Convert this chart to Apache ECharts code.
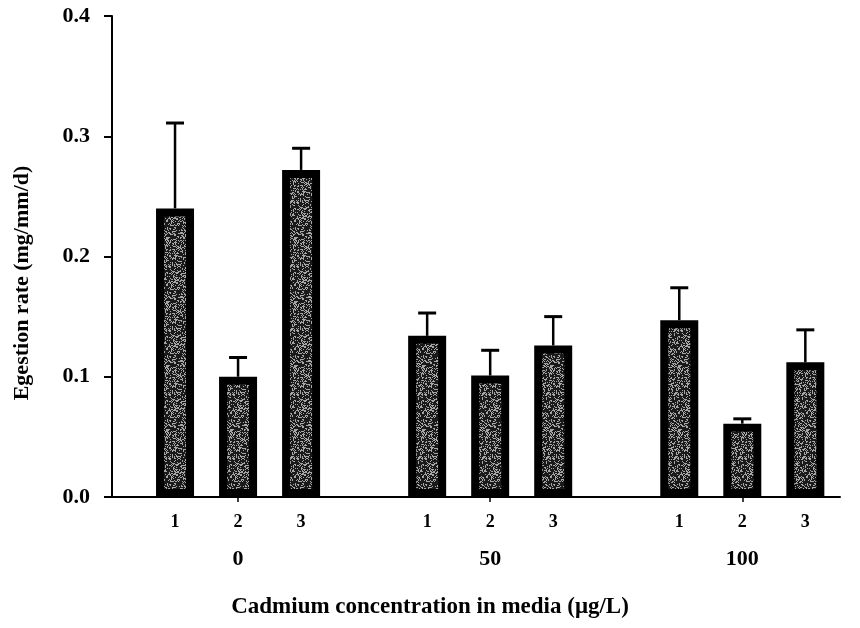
<!DOCTYPE html>
<html>
<head>
<meta charset="utf-8">
<script src="https://cdn.jsdelivr.net/npm/echarts@6/dist/echarts.min.js"></script>
<style>
  html, body { margin: 0; padding: 0; background: #ffffff; }
  #chart { width: 860px; height: 628px; }
</style>
</head>
<body>
<div id="chart"></div>
<script>
// Cadmium treatment groups and the three sub-treatments in each
const groups = ['0', '50', '100'];
const subLabels = ['1', '2', '3'];

// Mean egestion rate (mg/mm/d), ordered group by group
const egestion = [0.240, 0.100, 0.272, 0.134, 0.101, 0.126, 0.147, 0.061, 0.112];
// Upper error (SE) for each bar
const errUpper = [0.071, 0.016, 0.018, 0.019, 0.021, 0.024, 0.027, 0.004, 0.027];

// Y-axis tick values
const yTicks = [0, 0.1, 0.2, 0.3, 0.4];

const FONT = '"Liberation Serif", "Times New Roman", "DejaVu Serif", serif';

// Slot on the x scale: one empty slot separates consecutive groups
const slotOf = (g, s) => g * (subLabels.length + 1) + s + 1;

const barData = [];
const errData = [];
groups.forEach((g, gi) => {
  subLabels.forEach((s, si) => {
    const i = gi * subLabels.length + si;
    const x = slotOf(gi, si);
    barData.push([x, egestion[i]]);
    errData.push([x, egestion[i], egestion[i] + errUpper[i]]);
  });
});
const barSlots = barData.map(d => d[0]);
const groupSlots = groups.map((g, gi) => slotOf(gi, 1));

// Stippled grey fill for the bars (deterministic integer hash per pixel)
function stipple() {
  const size = 64;
  const c = document.createElement('canvas');
  c.width = size; c.height = size;
  const ctx = c.getContext('2d');
  ctx.fillStyle = '#1a1a1a';
  ctx.fillRect(0, 0, size, size);
  ctx.fillStyle = '#a6a6a6';
  for (let y = 0; y < size; y++) {
    for (let x = 0; x < size; x++) {
      let h = (x * 374761393 + y * 668265263) | 0;
      h = Math.imul(h ^ (h >>> 13), 1274126177);
      h = (h ^ (h >>> 16)) >>> 0;
      if ((h % 100) < 33) ctx.fillRect(x, y, 1, 1);
    }
  }
  return c;
}

const chart = echarts.init(document.getElementById('chart'));

chart.setOption({
  animation: false,
  backgroundColor: '#ffffff',
  grid: { left: 112, right: 20, top: 16, bottom: 131, containLabel: false },
  xAxis: [
    {
      type: 'value',
      min: 0,
      max: 11.55,
      axisLine: { show: true, lineStyle: { color: '#000', width: 2 } },
      axisTick: { show: true, customValues: groupSlots, length: 5, lineStyle: { color: '#000', width: 1.5 } },
      axisLabel: {
        customValues: barSlots,
        formatter: v => subLabels[(Math.round(v) - 1) % (subLabels.length + 1)],
        fontFamily: FONT, fontWeight: 'bold', fontSize: 18, color: '#000', margin: 16
      },
      splitLine: { show: false }
    },
    {
      type: 'value',
      position: 'bottom',
      min: 0,
      max: 11.55,
      axisLine: { show: false },
      axisTick: { show: false },
      axisLabel: {
        customValues: groupSlots,
        formatter: v => groups[Math.round((v - 2) / (subLabels.length + 1))],
        fontFamily: FONT, fontWeight: 'bold', fontSize: 22, color: '#000', margin: 51
      },
      splitLine: { show: false }
    }
  ],
  yAxis: {
    type: 'value',
    min: 0,
    max: 0.4,
    interval: 0.1,
    axisLine: { show: true, lineStyle: { color: '#000', width: 2 } },
    axisTick: { show: true, customValues: yTicks, length: 8, lineStyle: { color: '#000', width: 2 } },
    axisLabel: {
      customValues: yTicks,
      formatter: v => v.toFixed(1),
      fontFamily: FONT, fontWeight: 'bold', fontSize: 22, color: '#000', margin: 22
    },
    splitLine: { show: false }
  },
  graphic: [
    {
      type: 'text',
      x: 22, y: 283,
      rotation: Math.PI / 2,
      style: {
        text: 'Egestion rate (mg/mm/d)',
        font: 'bold 22px ' + FONT,
        fill: '#000',
        align: 'center',
        verticalAlign: 'middle'
      }
    },
    {
      type: 'text',
      x: 430, y: 607,
      style: {
        text: 'Cadmium concentration in media (\u03bcg/L)',
        font: 'bold 23px ' + FONT,
        fill: '#000',
        align: 'center',
        verticalAlign: 'middle'
      }
    }
  ],
  series: [
    {
      type: 'custom',
      z: 1,
      data: errData,
      renderItem: (params, api) => {
        const x = api.value(0);
        const lo = api.coord([x, api.value(1)]);
        const hi = api.coord([x, api.value(2)]);
        return {
          type: 'group',
          children: [
            { type: 'line', shape: { x1: lo[0], y1: lo[1], x2: hi[0], y2: hi[1] }, style: { stroke: '#000', lineWidth: 2.5 } },
            { type: 'line', shape: { x1: hi[0] - 9, y1: hi[1], x2: hi[0] + 9, y2: hi[1] }, style: { stroke: '#000', lineWidth: 3 } }
          ]
        };
      }
    },
    {
      type: 'bar',
      z: 2,
      data: barData,
      barWidth: 38,
      itemStyle: {
        color: { image: stipple(), repeat: 'repeat' },
        borderColor: '#000',
        borderWidth: 8
      }
    }
  ]
});
</script>
</body>
</html>
